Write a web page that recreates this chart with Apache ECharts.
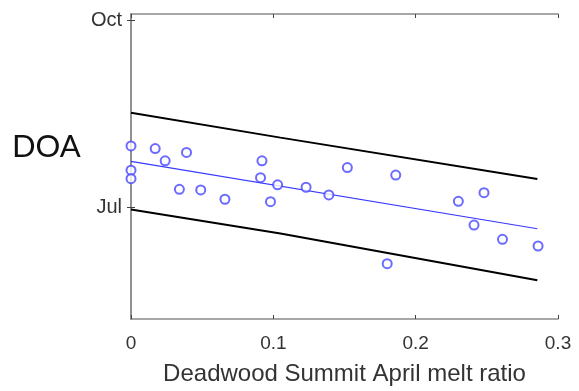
<!DOCTYPE html>
<html><head><meta charset="utf-8">
<script src="https://cdn.jsdelivr.net/npm/echarts@6/dist/echarts.min.js"></script>
<style>html,body{margin:0;padding:0;background:#fff}#c{width:579px;height:391px}</style>
</head><body><div id="c"></div>
<script>
// melt ratio (x) and day of year of DOA (y)
const meltRatio = [0.000,0.017,0.024,0.039,0.000,0.000,0.034,0.049,0.066,0.092,0.091,0.103,0.098,0.123,0.139,0.152,0.186,0.180,0.230,0.248,0.241,0.261,0.286];
const doaDay    = [212.1,210.8,204.8,208.9,200.2,196.0,190.8,190.5,185.9,204.8,196.5,193.0,184.7,191.8,188.0,201.5,197.8,154.2,184.9,189.1,173.2,166.2,162.9];
const fitX = [0, 0.2855];
const fitY = [204.5, 171.4];
const boundX = [0, 0.105, 0.2855];
const upperY = [228.4, 216.2, 195.8];
const lowerY = [180.8, 169.0, 146.1];
const yTickValues = [182, 274];
const yTickLabels = {182: 'Jul', 274: 'Oct'};
const xTicks = [0, 0.1, 0.2, 0.3];

const zip = (a, b) => a.map((v, i) => [v, b[i]]);
const axisGray = '#8a8a8a';
const tickStyle = {color: '#444', width: 1};
const chart = echarts.init(document.getElementById('c'));
chart.setOption({
  animation: false,
  title: {text: 'DOA', left: 7, top: 126, textStyle: {fontFamily: 'Lato', fontSize: 31, fontWeight: 'normal', color: '#111'}},
  grid: {left: 131, right: 21, top: 14, bottom: 71},
  xAxis: [{
    type: 'value', min: 0, max: 0.3, interval: 0.1,
    axisLine: {show: true, lineStyle: {color: axisGray, width: 1.5}},
    axisTick: {show: true, inside: true, length: 4, lineStyle: tickStyle},
    axisLabel: {fontFamily: 'Liberation Sans', fontSize: 19, color: '#333', margin: 15,
      formatter: v => xTicks.includes(+v.toFixed(1)) ? String(+v.toFixed(1)) : ''},
    splitLine: {show: false},
    name: 'Deadwood Summit April melt ratio', nameLocation: 'middle', nameGap: 43,
    nameTextStyle: {fontFamily: 'Liberation Sans', fontSize: 24, color: '#333'}
  }, {
    type: 'value', position: 'top', min: 0, max: 0.3, interval: 0.1,
    axisLine: {show: true, lineStyle: {color: axisGray, width: 1.5}},
    axisTick: {show: true, inside: true, length: 4, lineStyle: tickStyle},
    axisLabel: {show: false}, splitLine: {show: false}
  }],
  yAxis: [{
    type: 'value', min: 127, max: 277,
    axisLine: {show: true, lineStyle: {color: axisGray, width: 1.5}},
    axisTick: {show: true, inside: true, length: 4, customValues: yTickValues, lineStyle: tickStyle},
    axisLabel: {fontFamily: 'Liberation Sans', fontSize: 20, color: '#333', margin: 9,
      customValues: yTickValues, formatter: v => yTickLabels[v] || ''},
    splitLine: {show: false}
  }, {
    type: 'value', position: 'right', min: 127, max: 277,
    axisLine: {show: true, lineStyle: {color: axisGray, width: 1.5}},
    axisTick: {show: true, inside: true, length: 4, customValues: yTickValues, lineStyle: tickStyle},
    axisLabel: {show: false}, splitLine: {show: false}
  }],
  series: [
    {type: 'line', data: zip(boundX, upperY), showSymbol: false, lineStyle: {color: '#000', width: 2}, z: 2},
    {type: 'line', data: zip(boundX, lowerY), showSymbol: false, lineStyle: {color: '#000', width: 2}, z: 2},
    {type: 'line', data: zip(fitX, fitY), showSymbol: false, lineStyle: {color: '#3a3aff', width: 1.2}, z: 3},
    {type: 'scatter', data: zip(meltRatio, doaDay), symbol: 'emptyCircle', symbolSize: 9,
      itemStyle: {color: '#4646ff', borderWidth: 1.3}, z: 4}
  ]
});
</script></body></html>
